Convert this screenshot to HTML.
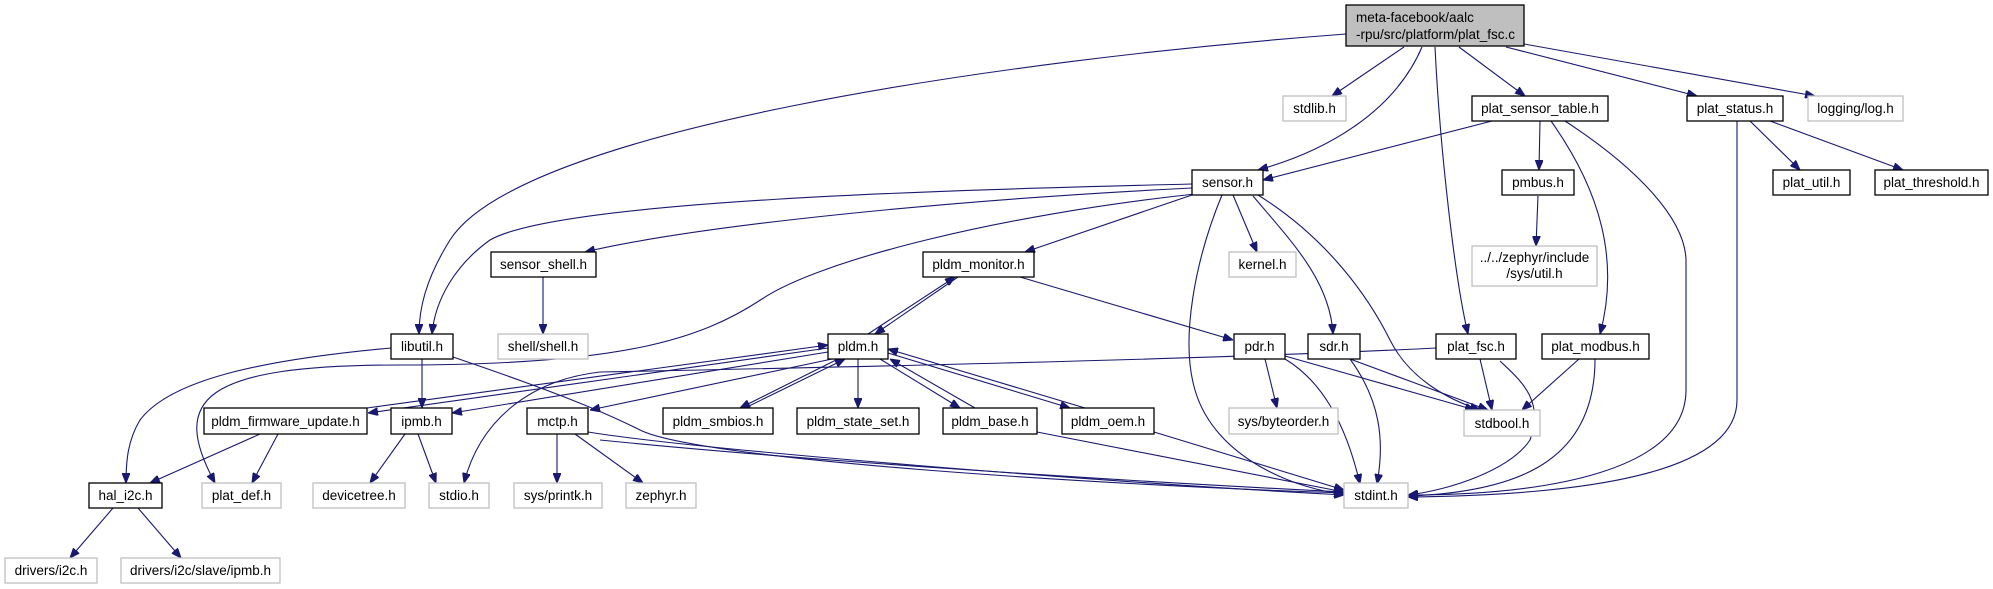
<!DOCTYPE html>
<html><head><meta charset="utf-8"><style>
html,body{margin:0;padding:0;background:#fff;}
svg{display:block;}
text{font-family:"Liberation Sans",Arial,sans-serif;font-size:13.5px;fill:#000;}
.n{fill:#fff;stroke:#000;stroke-width:1.3;}
.g{fill:#fff;stroke:#bfbfbf;stroke-width:1.3;}
.e{fill:none;stroke:#191970;stroke-width:1.1;}
</style></head><body>
<svg width="1993" height="589" viewBox="0 0 1993 589" xmlns="http://www.w3.org/2000/svg">
<defs><marker id="a" viewBox="0 0 10 8" refX="10" refY="4" markerWidth="10" markerHeight="8" markerUnits="userSpaceOnUse" orient="auto"><path d="M0,0 L10,4 L0,8 z" fill="#191970" stroke="#191970"/></marker></defs>
<g class="e" marker-end="url(#a)">
<!-- main edges -->
<path d="M1346,34 C1000,60 520,130 450,240 C425,280 419,310 419,334"/>
<path d="M1404,47 L1332,96"/>
<path d="M1422,47 C1395,110 1330,150 1258,170"/>
<path d="M1435,47 C1440,150 1455,280 1468,334"/>
<path d="M1459,47 L1525,96"/>
<path d="M1506,47 L1697,96"/>
<path d="M1524,44 L1815,96"/>
<!-- plat_sensor_table -->
<path d="M1492,121 L1263,180"/>
<path d="M1540,121 L1539,170"/>
<path d="M1551,121 C1600,190 1620,260 1600,334"/>
<path d="M1565,121 C1640,170 1685,220 1686,260 L1686,390 C1686,470 1550,495 1408,495"/>
<!-- plat_status -->
<path d="M1737,121 L1737,400 C1737,470 1600,495 1408,497"/>
<path d="M1750,121 L1800,170"/>
<path d="M1770,121 L1903,170"/>
<!-- pmbus -->
<path d="M1538,196 L1536,246"/>
<!-- sensor -->
<path d="M1192,184 C950,190 560,200 490,240 C455,265 435,300 432,334"/>
<path d="M1192,188 C950,200 700,225 585,252"/>
<path d="M1195,194 C1000,215 820,260 762,299 C700,340 620,365 400,365 C200,365 170,400 215,483"/>
<path d="M1192,195 L1025,252"/>
<path d="M1233,195 L1257,252"/>
<path d="M1222,195 C1195,260 1180,340 1195,390 C1215,460 1300,490 1344,494"/>
<path d="M1253,196 C1290,240 1330,280 1333,334"/>
<path d="M1258,195 C1330,240 1370,300 1390,340 C1410,380 1450,400 1480,410"/>
<!-- pldm_monitor -->
<path d="M958,277 L875,334"/>
<path d="M868,334 L955,277"/>
<path d="M1020,277 L1233,340"/>
<!-- pdr -->
<path d="M1265,359 L1277,408"/>
<path d="M1285,356 L1475,410"/>
<path d="M1285,359 C1320,380 1345,420 1360,484"/>
<!-- sdr -->
<path d="M1350,359 L1488,410"/>
<path d="M1350,359 C1380,400 1385,440 1377,484"/>
<!-- plat_fsc -->
<path d="M1436,348 C1200,360 800,368 600,372 C530,380 480,420 464,483"/>
<path d="M1480,359 L1492,410"/>
<path d="M1500,361 C1520,380 1545,400 1530,440 C1510,470 1450,490 1408,495"/>
<!-- plat_modbus -->
<path d="M1579,359 L1522,410"/>
<path d="M1595,359 C1595,460 1520,492 1408,496"/>
<!-- pldm.h out -->
<path d="M828,348 L368,413"/>
<path d="M828,352 L452,413"/>
<path d="M832,359 L590,410"/>
<path d="M838,359 L740,408"/>
<path d="M858,359 L858,408"/>
<path d="M880,359 L960,408"/>
<path d="M888,353 L1070,408"/>
<path d="M600,440 C800,460 1100,480 1344,492"/>
<!-- back edges to pldm.h -->
<path d="M367,408 L828,345"/>
<path d="M745,408 L845,359"/>
<path d="M975,408 L890,359"/>
<path d="M1085,408 L888,349"/>
<!-- pldm_base / oem to stdint -->
<path d="M1037,432 L1344,492"/>
<path d="M1154,432 L1344,490"/>
<!-- libutil -->
<path d="M391,348 C260,360 170,380 140,420 C128,440 126,460 126,483"/>
<path d="M422,359 L422,408"/>
<path d="M453,357 C550,390 600,410 640,430 C700,460 1100,485 1344,493"/>
<!-- firmware update -->
<path d="M260,434 L150,483"/>
<path d="M278,434 L252,483"/>
<!-- ipmb -->
<path d="M405,434 L370,483"/>
<path d="M418,434 L436,483"/>
<!-- mctp -->
<path d="M557,434 L557,483"/>
<path d="M575,434 L643,483"/>
<path d="M588,432 C700,450 1100,482 1344,495"/>
<!-- hal_i2c -->
<path d="M113,508 L70,558"/>
<path d="M138,508 L181,558"/>
<!-- sensor_shell -->
<path d="M543,277 L543,334"/>
</g>
<!-- nodes -->
<rect x="1346" y="5" width="178" height="41" fill="#bfbfbf" stroke="#000" stroke-width="1.3"/>
<text x="1356" y="22">meta-facebook/aalc</text><text x="1356" y="39">-rpu/src/platform/plat_fsc.c</text>
<g>
<rect class="g" x="1283" y="96" width="63" height="25"/><text x="1314.5" y="113" text-anchor="middle">stdlib.h</text>
<rect class="n" x="1472" y="96" width="136" height="25"/><text x="1540" y="113" text-anchor="middle">plat_sensor_table.h</text>
<rect class="n" x="1687" y="96" width="96" height="25"/><text x="1735" y="113" text-anchor="middle">plat_status.h</text>
<rect class="g" x="1808" y="96" width="95" height="25"/><text x="1855.5" y="113" text-anchor="middle">logging/log.h</text>
<rect class="n" x="1192" y="170" width="71" height="25"/><text x="1227.5" y="187" text-anchor="middle">sensor.h</text>
<rect class="n" x="1502" y="170" width="72" height="25"/><text x="1538" y="187" text-anchor="middle">pmbus.h</text>
<rect class="n" x="1773" y="170" width="77" height="25"/><text x="1811.5" y="187" text-anchor="middle">plat_util.h</text>
<rect class="n" x="1875" y="170" width="113" height="25"/><text x="1931.5" y="187" text-anchor="middle">plat_threshold.h</text>
<rect class="n" x="491" y="252" width="105" height="25"/><text x="543.5" y="269" text-anchor="middle">sensor_shell.h</text>
<rect class="n" x="923" y="252" width="111" height="25"/><text x="978.5" y="269" text-anchor="middle">pldm_monitor.h</text>
<rect class="g" x="1229" y="252" width="67" height="25"/><text x="1262.5" y="269" text-anchor="middle">kernel.h</text>
<rect class="g" x="1472" y="246" width="125" height="40"/><text x="1534.5" y="262" text-anchor="middle">../../zephyr/include</text><text x="1534.5" y="278" text-anchor="middle">/sys/util.h</text>
<rect class="n" x="391" y="334" width="62" height="25"/><text x="422" y="351" text-anchor="middle">libutil.h</text>
<rect class="g" x="498" y="334" width="90" height="25"/><text x="543" y="351" text-anchor="middle">shell/shell.h</text>
<rect class="n" x="828" y="334" width="60" height="25"/><text x="858" y="351" text-anchor="middle">pldm.h</text>
<rect class="n" x="1234" y="334" width="51" height="25"/><text x="1259.5" y="351" text-anchor="middle">pdr.h</text>
<rect class="n" x="1308" y="334" width="52" height="25"/><text x="1334" y="351" text-anchor="middle">sdr.h</text>
<rect class="n" x="1436" y="334" width="80" height="25"/><text x="1476" y="351" text-anchor="middle">plat_fsc.h</text>
<rect class="n" x="1542" y="334" width="107" height="25"/><text x="1595.5" y="351" text-anchor="middle">plat_modbus.h</text>
<rect class="n" x="204" y="408" width="163" height="26"/><text x="285.5" y="426" text-anchor="middle">pldm_firmware_update.h</text>
<rect class="n" x="391" y="408" width="61" height="26"/><text x="421.5" y="426" text-anchor="middle">ipmb.h</text>
<rect class="n" x="527" y="408" width="61" height="26"/><text x="557.5" y="426" text-anchor="middle">mctp.h</text>
<rect class="n" x="663" y="408" width="110" height="26"/><text x="718" y="426" text-anchor="middle">pldm_smbios.h</text>
<rect class="n" x="797" y="408" width="122" height="26"/><text x="858" y="426" text-anchor="middle">pldm_state_set.h</text>
<rect class="n" x="943" y="408" width="94" height="26"/><text x="990" y="426" text-anchor="middle">pldm_base.h</text>
<rect class="n" x="1062" y="408" width="92" height="26"/><text x="1108" y="426" text-anchor="middle">pldm_oem.h</text>
<rect class="g" x="1229" y="408" width="109" height="26"/><text x="1283.5" y="426" text-anchor="middle">sys/byteorder.h</text>
<rect class="g" x="1464" y="410" width="76" height="26"/><text x="1502" y="428" text-anchor="middle">stdbool.h</text>
<rect class="n" x="89" y="483" width="73" height="25"/><text x="125.5" y="500" text-anchor="middle">hal_i2c.h</text>
<rect class="g" x="202" y="483" width="79" height="25"/><text x="241.5" y="500" text-anchor="middle">plat_def.h</text>
<rect class="g" x="313" y="483" width="92" height="25"/><text x="359" y="500" text-anchor="middle">devicetree.h</text>
<rect class="g" x="429" y="483" width="60" height="25"/><text x="459" y="500" text-anchor="middle">stdio.h</text>
<rect class="g" x="514" y="483" width="88" height="25"/><text x="558" y="500" text-anchor="middle">sys/printk.h</text>
<rect class="g" x="626" y="483" width="70" height="25"/><text x="661" y="500" text-anchor="middle">zephyr.h</text>
<rect class="g" x="1344" y="483" width="64" height="25"/><text x="1376" y="500" text-anchor="middle">stdint.h</text>
<rect class="g" x="5" y="558" width="92" height="25"/><text x="51" y="575" text-anchor="middle">drivers/i2c.h</text>
<rect class="g" x="121" y="558" width="159" height="25"/><text x="200.5" y="575" text-anchor="middle">drivers/i2c/slave/ipmb.h</text>
</g>
</svg>
</body></html>
